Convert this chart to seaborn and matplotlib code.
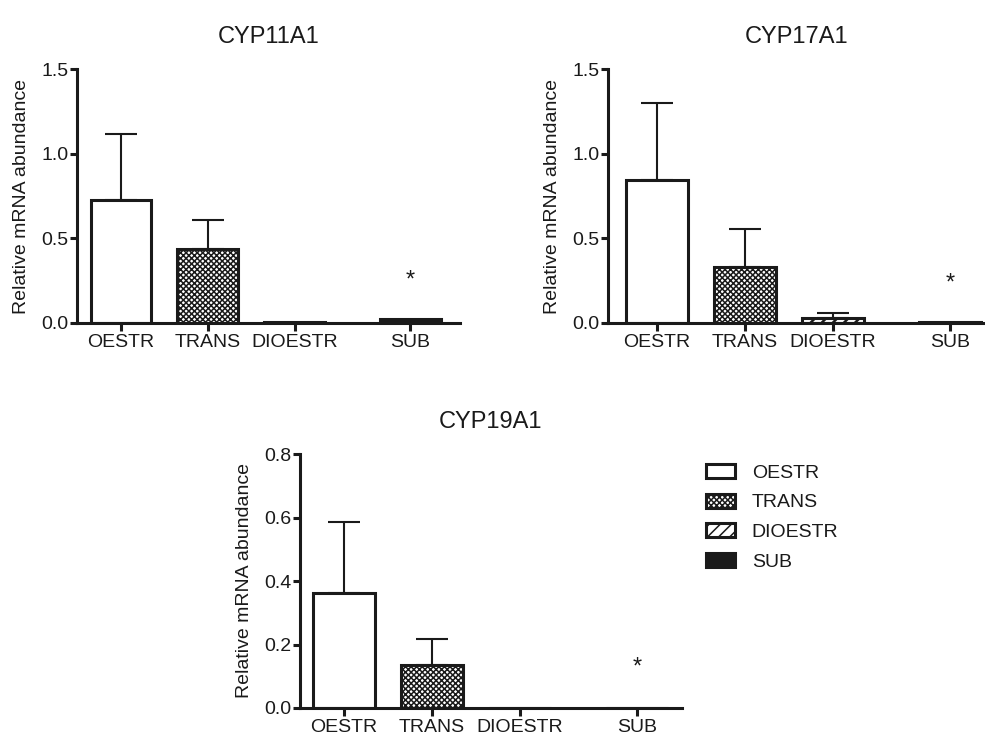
import numpy as np
import pandas as pd
import matplotlib
matplotlib.use('Agg')
import matplotlib.pyplot as plt
from matplotlib.patches import Patch
import seaborn as sns

# data
categories = ['OESTR', 'TRANS', 'DIOESTR', 'SUB']
genes = ['CYP11A1', 'CYP17A1', 'CYP19A1']

cyp11a1_mean = [0.726, 0.437, 0.006, 0.022]
cyp11a1_sem = [0.389, 0.171, 0.0, 0.0]
cyp17a1_mean = [0.845, 0.329, 0.031, 0.006]
cyp17a1_sem = [0.453, 0.224, 0.026, 0.0]
cyp19a1_mean = [0.362, 0.136, 0.0, 0.0]
cyp19a1_sem = [0.224, 0.081, 0.0, 0.0]

# significance stars (on SUB) and their heights
star_height = [0.25, 0.236, 0.127]

y_max = [1.5, 1.5, 0.8]
y_step = [0.5, 0.5, 0.2]

# layout: x position of each group (SUB sits a bit apart)
x_pos = [0, 1, 2, 3.33]

INK = '#1a1a1a'
bar_face = ['white', 'white', 'white', INK]
bar_hatch = [None, 'xxxxxx', '///', None]

sns.set_style('ticks')
plt.rcParams['font.family'] = ['Liberation Sans', 'DejaVu Sans']
plt.rcParams['hatch.linewidth'] = 1.1
plt.rcParams['hatch.color'] = INK
plt.rcParams['text.color'] = INK
plt.rcParams['axes.labelcolor'] = INK
plt.rcParams['xtick.color'] = INK
plt.rcParams['ytick.color'] = INK


def draw_panel(ax, gene, means, sems, star_y, ymax, ystep, xlim):
    df = pd.DataFrame({'x': x_pos, 'group': categories, 'value': means})
    sns.barplot(data=df, x='x', y='value', hue='group', hue_order=categories,
                palette=dict(zip(categories, bar_face)), native_scale=True,
                dodge=False, width=0.7, errorbar=None, legend=False,
                edgecolor=INK, linewidth=2.2, ax=ax)
    for p in ax.patches:
        cx = p.get_x() + p.get_width() / 2
        i = int(np.argmin(np.abs(np.array(x_pos) - cx)))
        if bar_hatch[i]:
            p.set_hatch(bar_hatch[i])
            if i == 2 and hasattr(p, 'set_hatch_linewidth'):
                p.set_hatch_linewidth(1.8)

    # upper error bars only (mean + SEM)
    has_err = [i for i, s in enumerate(sems) if s > 0]
    ax.errorbar([x_pos[i] for i in has_err], [means[i] for i in has_err],
                yerr=[[0] * len(has_err), [sems[i] for i in has_err]],
                fmt='none', ecolor=INK, elinewidth=1.5, capsize=11.5,
                capthick=1.5, zorder=1)

    ax.text(x_pos[3], star_y, '*', ha='center', va='center', fontsize=17,
            color=INK)

    ax.set_ylim(0, ymax)
    ax.set_yticks(np.arange(0, ymax + ystep / 2, ystep))
    ax.set_yticklabels([f'{v:.1f}' for v in np.arange(0, ymax + ystep / 2, ystep)])
    ax.set_xlim(*xlim)
    ax.set_xticks(x_pos)
    ax.set_xticklabels(categories)
    ax.set_xlabel('')
    ax.set_ylabel('Relative mRNA abundance', fontsize=14, labelpad=8)
    ax.set_title(gene, fontsize=17, pad=19)
    ax.tick_params(axis='both', labelsize=14, width=2.2, length=5, pad=1)
    ax.tick_params(axis='x', length=6, pad=2)
    for side in ['left', 'bottom']:
        ax.spines[side].set_linewidth(2.2)
        ax.spines[side].set_color(INK)
    sns.despine(ax=ax)
    for sp in ax.spines.values():
        sp.set_clip_on(False)


fig = plt.figure(figsize=(9.85, 7.36), dpi=100)
W, H = 985, 736


def px_axes(left, top, right, bottom):
    return fig.add_axes([left / W, 1 - bottom / H, (right - left) / W, (bottom - top) / H])


ax1 = px_axes(77, 69, 460, 323)
ax2 = px_axes(608, 69, 985, 323)
ax3 = px_axes(300, 454, 682, 708)

draw_panel(ax1, genes[0], cyp11a1_mean, cyp11a1_sem, star_height[0], y_max[0], y_step[0], (-0.506, 3.9))
draw_panel(ax2, genes[1], cyp17a1_mean, cyp17a1_sem, star_height[1], y_max[1], y_step[1], (-0.557, 3.73))
draw_panel(ax3, genes[2], cyp19a1_mean, cyp19a1_sem, star_height[2], y_max[2], y_step[2], (-0.5, 3.84))

handles = [Patch(facecolor=bar_face[i], edgecolor=INK, hatch=bar_hatch[i], linewidth=2.2,
                 label=categories[i]) for i in range(4)]
fig.legend(handles=handles, loc='upper left', bbox_to_anchor=(706 / W, 1 - 464 / H),
           frameon=False, fontsize=14, handlelength=1.5, handleheight=0.75,
           handletextpad=0.85, labelspacing=0.6, borderpad=0, borderaxespad=0)

fig.savefig('out.png', dpi=100)
